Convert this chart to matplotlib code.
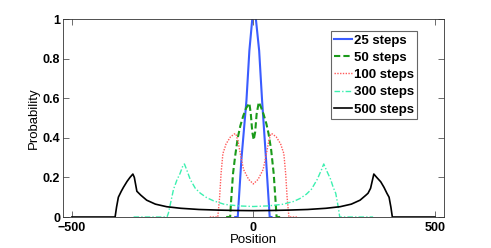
import numpy as np
import matplotlib
matplotlib.use("Agg")
import matplotlib.pyplot as plt

plt.rcParams['font.family'] = ['Liberation Sans', 'DejaVu Sans']

# position vs probability for each walk length
x25 = [-50, -43, -33, -19, -11, -3, 2, 7, 16, 24, 35, 45, 50]
p25 = [0, 0, 0.29, 0.59, 0.84, 1.0, 1.06, 1.0, 0.84, 0.59, 0.29, 0, 0]

x50 = [-75, -64, -61, -56, -50, -43, -36, -28, -20, -11, -7, -3, 1, 5, 9, 15, 20, 28, 36, 42, 49, 56, 61, 64, 75]
p50 = [0, 0, 0.09, 0.22, 0.31, 0.40, 0.46, 0.51, 0.55, 0.575, 0.52, 0.43, 0.39, 0.43, 0.52, 0.58,
       0.56, 0.52, 0.47, 0.42, 0.34, 0.22, 0.086, 0, 0]

x100 = [-120, -98, -93, -89, -84, -75, -63, -52, -48, -42, -36, -27, -13, 0, 13, 27, 36, 42, 48, 52,
        63, 75, 84, 89, 93, 98, 120]
p100 = [0, 0, 0.10, 0.22, 0.32, 0.37, 0.405, 0.42, 0.42, 0.38, 0.32, 0.24, 0.19, 0.167, 0.19, 0.24,
        0.32, 0.38, 0.42, 0.42, 0.405, 0.37, 0.32, 0.22, 0.10, 0, 0]

x300 = [-330, -238, -234, -227, -220, -210, -202, -194, -190, -184, -174, -160, -146, -128, -110, -80,
        -40, 0, 40, 80, 110, 128, 146, 160, 176, 188, 194, 203, 213, 220, 227, 234, 238, 330]
p300 = [0, 0, 0.02, 0.08, 0.14, 0.19, 0.22, 0.26, 0.268, 0.24, 0.19, 0.145, 0.12, 0.097, 0.082, 0.064,
        0.056, 0.053, 0.056, 0.064, 0.078, 0.093, 0.115, 0.14, 0.19, 0.24, 0.268, 0.23, 0.19, 0.15,
        0.12, 0.05, 0, 0]

x500 = [-500, -381, -377, -372, -364, -358, -348, -340, -332, -328, -324, -321, -310, -294, -270,
        -239, -200, -150, -100, -50, 0, 50, 100, 150, 200, 239, 270, 294, 310, 316, 323, 332, 340,
        351, 360, 368, 374, 379, 383, 500]
p500 = [0, 0, 0.05, 0.10, 0.13, 0.15, 0.18, 0.20, 0.217, 0.20, 0.16, 0.13, 0.11, 0.085, 0.065,
        0.052, 0.044, 0.038, 0.035, 0.033, 0.032, 0.033, 0.035, 0.038, 0.044, 0.052, 0.065, 0.085,
        0.11, 0.12, 0.145, 0.217, 0.20, 0.178, 0.15, 0.12, 0.10, 0.05, 0, 0]

labels = ['25 steps', '50 steps', '100 steps', '300 steps', '500 steps']

fig = plt.figure(figsize=(4.91, 2.48), dpi=100)
ax = fig.add_axes([0.128, 0.125, 0.776, 0.798])

ax.plot(x25, p25, color='#3a5cff', lw=1.5, label=labels[0])
ax.plot(x50, p50, color='#1a9a1a', lw=1.5, ls=(0, (3, 1.5)), label=labels[1])
ax.plot(x100, p100, color='#ff5a5a', lw=1.0, ls=(0, (1, 1)), label=labels[2])
ax.plot(x300, p300, color='#3cf0b0', lw=1.0, ls=(0, (4, 1.5, 1, 1.5)), label=labels[3])
ax.plot(x500, p500, color='black', lw=1.2, label=labels[4])

ax.set_xlim(-525, 525)
ax.set_ylim(0, 1)
ax.set_xticks([-500, 0, 500])
ax.set_yticks([0, 0.2, 0.4, 0.6, 0.8, 1])
ax.set_yticklabels(['0', '0.2', '0.4', '0.6', '0.8', '1'])
ax.tick_params(direction='in', top=True, right=True, length=4, width=0.5,
               labelsize=9, colors='#333333', labelcolor='black')
ax.tick_params(axis='x', pad=3.5)
ax.tick_params(axis='y', pad=2)
for lab in ax.get_xticklabels() + ax.get_yticklabels():
    lab.set_fontweight('bold')
for sp in ax.spines.values():
    sp.set_linewidth(0.6)
    sp.set_color('#333333')

ax.set_xlabel('Position', fontsize=9.5, labelpad=0)
ax.set_ylabel('Probability', fontsize=9.5, labelpad=2)

leg = ax.legend(loc='upper right', bbox_to_anchor=(0.93, 0.94),
                prop={'weight': 'bold', 'size': 9.5}, handlelength=1.4, handletextpad=0.1,
                labelspacing=0.38, borderpad=0.25, borderaxespad=0, fancybox=False,
                framealpha=1)
leg.get_frame().set_edgecolor('#666666')
leg.get_frame().set_linewidth(0.8)

fig.savefig('out.png', dpi=100)
